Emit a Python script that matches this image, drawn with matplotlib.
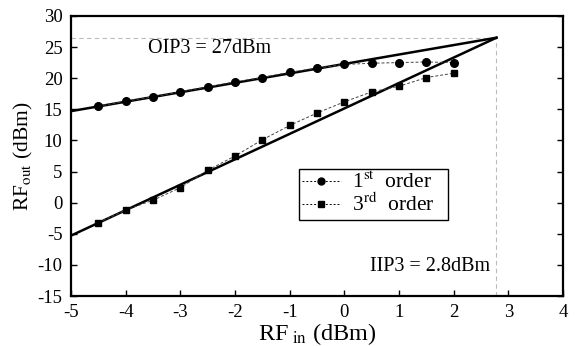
import matplotlib
matplotlib.use("Agg")
import matplotlib.pyplot as plt
from matplotlib.lines import Line2D

plt.rcParams['font.family'] = ['Liberation Serif', 'DejaVu Serif']
plt.rcParams['mathtext.fontset'] = 'stix'
plt.rcParams['axes.unicode_minus'] = False

# Data
rf_in = [-4.5, -4.0, -3.5, -3.0, -2.5, -2.0, -1.5, -1.0, -0.5, 0.0, 0.5, 1.0, 1.5, 2.0]
first_order = [15.5, 16.3, 17.0, 17.8, 18.6, 19.4, 20.1, 20.95, 21.6, 22.2, 22.4, 22.5, 22.6, 22.5]
third_order = [-3.2, -1.2, 0.4, 2.4, 5.2, 7.5, 10.1, 12.4, 14.4, 16.2, 17.8, 18.7, 20.1, 20.8]

fit_x = [-5.0, 2.78]
fit1_y = [14.7, 26.5]
fit3_y = [-5.3, 26.5]

iip3 = 2.78
oip3 = 26.5

xticks = [-5, -4, -3, -2, -1, 0, 1, 2, 3, 4]
yticks = [-15, -10, -5, 0, 5, 10, 15, 20, 25, 30]

fig = plt.figure(figsize=(5.77, 3.46), dpi=100)
ax = fig.add_axes([0.123, 0.1445, 0.853, 0.8095])

# reference dashed lines
ax.plot([-5, iip3], [oip3, oip3], color='#bbbbbb', lw=0.8, ls=(0, (4, 3)), zorder=1)
ax.plot([iip3, iip3], [-15, oip3], color='#bbbbbb', lw=0.8, ls=(0, (4, 3)), zorder=1)

# fit lines
ax.plot(fit_x, fit1_y, color='black', lw=1.8, zorder=3)
ax.plot(fit_x, fit3_y, color='black', lw=1.8, zorder=3)

# data
ax.plot(rf_in, first_order, color='#444444', lw=0.7, ls=(0, (3, 2)), marker='o',
        ms=5.5, mfc='black', mec='black', zorder=4)
ax.plot(rf_in, third_order, color='#444444', lw=0.7, ls=(0, (3, 2)), marker='s',
        ms=5, mfc='black', mec='black', zorder=4)

ax.set_xlim(-5, 4)
ax.set_ylim(-15, 30)
ax.set_xticks(xticks)
ax.set_yticks(yticks)
ax.tick_params(direction='in', length=4, width=1, labelsize=13.5, right=True, top=False,
               pad=6)
for s in ax.spines.values():
    s.set_linewidth(1.6)

ax.set_xlabel(r'RF$_{\rm\ in}$ (dBm)', fontsize=17.5, labelpad=0)
ax.set_ylabel(r'RF$_{\rm out}$ (dBm)', fontsize=15.5, labelpad=2)

ax.text(-3.6, 24.7, 'OIP3 = 27dBm', fontsize=14.5, ha='left', va='center')
ax.text(2.66, -10.3, 'IIP3 = 2.8dBm', fontsize=14.5, ha='right', va='center')

handles = [
    Line2D([], [], color='black', lw=0.7, ls=(0, (2, 2)), marker='o', ms=5, mfc='black'),
    Line2D([], [], color='black', lw=0.7, ls=(0, (2, 2)), marker='s', ms=4.5, mfc='black'),
]
leg = ax.legend(handles, [r'1$^{\rm st}$  order   ', r'3$^{\rm rd}$  order   '],
                loc='upper left', bbox_to_anchor=(0.463, 0.454), fontsize=15.5,
                frameon=True, fancybox=False, edgecolor='black', framealpha=1,
                handlelength=1.8, handletextpad=0.5, borderpad=0.15, labelspacing=0.0,
                borderaxespad=0)
leg.get_frame().set_linewidth(1.0)

fig.savefig('out.png', dpi=100)
